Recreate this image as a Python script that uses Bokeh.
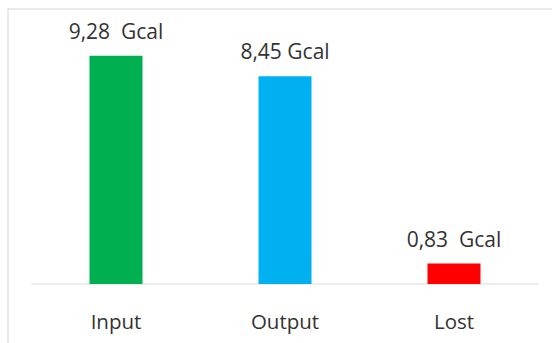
from bokeh.plotting import figure
from bokeh.models import ColumnDataSource, Range1d, Span
from bokeh.embed import file_html
from bokeh.resources import INLINE
from bokeh.core.properties import value

# Energy balance data
categories = ["Input", "Output", "Lost"]
energy_gcal = [9.28, 8.45, 0.83]
value_labels = ["9,28\u00a0 Gcal", "8,45 Gcal", "0,83\u00a0 Gcal"]
bar_colors = ["#00B050", "#00B0F0", "#FF0000"]

# Canvas / frame geometry (pixels)
WIDTH, HEIGHT = 552, 343
FRAME_LEFT, FRAME_TOP = 7, 8
FIRST_CENTER_PX = 115.5      # canvas x of the first category centre
CATEGORY_STEP_PX = 169.0     # distance between category centres
BASELINE_PX = 283.5          # canvas y of the zero line
PX_PER_UNIT = 24.6           # vertical pixels per Gcal

frame_w = WIDTH - FRAME_LEFT
frame_h = HEIGHT - FRAME_TOP
x_start = -(FIRST_CENTER_PX - FRAME_LEFT) / CATEGORY_STEP_PX
x_end = x_start + frame_w / CATEGORY_STEP_PX
y_end = (BASELINE_PX - FRAME_TOP) / PX_PER_UNIT
y_start = y_end - frame_h / PX_PER_UNIT

positions = list(range(len(categories)))
src = ColumnDataSource(dict(
    x=positions, v=energy_gcal, label=value_labels,
    cat=categories, color=bar_colors,
))

p = figure(
    width=WIDTH, height=HEIGHT,
    x_range=Range1d(x_start, x_end), y_range=Range1d(y_start, y_end),
    x_axis_type=None, y_axis_type=None,
    toolbar_location=None, output_backend="svg",
    min_border_left=FRAME_LEFT, min_border_top=FRAME_TOP,
    min_border_right=0, min_border_bottom=0,
    outline_line_color=None, background_fill_color="white",
    border_fill_color="white",
)

# Chart-area border (top and left edges)
border_color = "#d6d6d6"
p.add_layout(Span(location=x_start, dimension="height",
                  line_color=border_color, line_width=2))
p.add_layout(Span(location=y_end, dimension="width",
                  line_color=border_color, line_width=2))

# Category axis line at zero
p.segment(x0=[positions[0] - 0.5], y0=[0], x1=[positions[-1] + 0.5], y1=[0],
          line_color="#d9d9d9", line_width=1)

# Bars
p.vbar(x="x", top="v", bottom=0, width=53 / CATEGORY_STEP_PX,
       fill_color="color", line_color=None, source=src)

font = value("Open Sans")
text_color = "#333333"

# Value labels above the bars
p.text(x="x", y="v", text="label", source=src,
       text_align="center", text_baseline="alphabetic", y_offset=-25,
       text_font=font, text_font_size="21px", text_color=text_color)

# Category labels below the zero line
p.text(x="x", y=0, text="cat", source=src,
       text_align="center", text_baseline="alphabetic", y_offset=37,
       text_font=font, text_font_size="20.5px", text_color=text_color)

open("out.html", "w").write(file_html(p, INLINE))
